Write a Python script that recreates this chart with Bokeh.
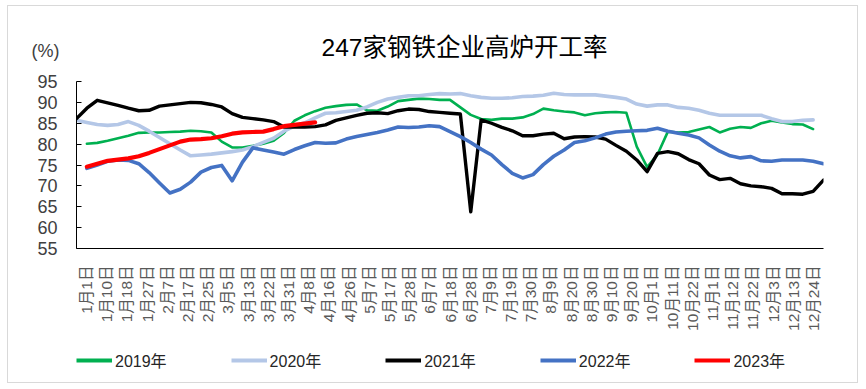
import numpy as np
from bokeh.plotting import figure
from bokeh.layouts import column
from bokeh.models import (Range1d, FixedTicker, Legend, LegendItem, Label, LinearAxis,
                          CustomJSTickFormatter)
from bokeh.embed import file_html
from bokeh.resources import INLINE

# ---------------- data ----------------
date_labels = ["1月1日", "1月10日", "1月18日", "1月27日", "2月7日", "2月17日", "2月25日",
               "3月5日", "3月13日", "3月22日", "3月31日", "4月8日", "4月16日", "4月26日",
               "5月7日", "5月17日", "5月28日", "6月7日", "6月18日", "6月28日", "7月9日",
               "7月19日", "7月30日", "8月9日", "8月20日", "8月30日", "9月10日", "9月20日",
               "10月1日", "10月11日", "10月22日", "11月1日", "11月12日", "11月22日",
               "12月3日", "12月13日", "12月24日"]

y_ticks = [55, 60, 65, 70, 75, 80, 85, 90, 95]

v2019 = [None, 80.1, 80.3, 80.8, 81.4, 82.0, 82.7, 82.8, 82.8, 82.9, 83.0, 83.2, 83.1, 82.8,
         80.6, 79.2, 79.2, 79.6, 80.1, 80.8, 82.7, 85.6, 86.9, 87.9, 88.7, 89.1, 89.4, 89.5,
         88.1, 88.0, 89.0, 90.3, 90.6, 90.9, 90.8, 90.6, 90.6, 88.8, 87.0, 86.0, 85.8, 86.1,
         86.1, 86.4, 87.2, 88.5, 88.1, 87.8, 87.6, 86.9, 87.4, 87.6, 87.7, 87.5, 79.4, 74.5,
         77.5, 83.0, 82.8, 82.9, 83.5, 84.1, 82.8, 83.7, 84.1, 83.9, 85.0, 85.6, 85.2, 84.8,
         84.7, 83.6]

v2020 = [85.7, 85.2, 84.7, 84.5, 84.7, 85.4, 84.5, 83.1, 81.6, 80.1, 78.6, 77.2, 77.4, 77.6,
         77.9, 78.2, 78.6, 79.4, 80.4, 81.4, 83.1, 84.3, 85.1, 86.3, 87.4, 87.5, 87.8, 88.1,
         88.9, 90.0, 90.8, 91.2, 91.6, 91.6, 91.9, 92.1, 92.0, 92.1, 91.6, 91.2, 91.0, 91.0,
         91.1, 91.4, 91.5, 91.7, 92.2, 91.9, 91.8, 91.8, 91.8, 91.5, 91.2, 90.8, 89.6, 89.1,
         89.4, 89.4, 88.8, 88.6, 88.1, 87.4, 86.9, 86.9, 86.9, 86.9, 86.9, 86.1, 85.4, 85.4,
         85.7, 85.8]

v2021 = [86.1, 88.6, 90.5, 89.9, 89.3, 88.6, 88.0, 88.1, 89.1, 89.4, 89.7, 90.0, 89.9, 89.5,
         88.9, 87.3, 86.4, 86.1, 85.8, 85.4, 84.1, 84.1, 84.1, 84.2, 84.6, 85.7, 86.3, 86.9,
         87.4, 87.5, 87.3, 88.0, 88.4, 88.3, 87.8, 87.6, 87.4, 87.2, 63.8, 85.8, 85.0, 84.0,
         83.2, 82.0, 82.0, 82.4, 82.6, 81.3, 81.7, 81.8, 81.7, 81.2, 79.7, 78.3, 76.2, 73.4,
         77.8, 78.2, 77.7, 76.3, 75.3, 72.6, 71.5, 71.8, 70.5, 70.0, 69.8, 69.4, 68.1, 68.1,
         68.0, 68.7, 71.4]

v2022 = [None, 74.2, 75.0, 75.9, 76.2, 76.1, 75.3, 73.2, 70.7, 68.3, 69.2, 70.9, 73.3, 74.4,
         74.9, 71.2, 75.7, 79.1, 78.6, 78.1, 77.6, 78.7, 79.6, 80.4, 80.2, 80.3, 81.2, 81.8,
         82.3, 82.8, 83.4, 84.1, 84.0, 84.1, 84.4, 84.2, 83.0, 81.8, 80.4, 78.8, 77.4, 75.1,
         73.0, 71.9, 72.7, 75.1, 77.1, 78.6, 80.4, 80.8, 81.5, 82.4, 82.9, 83.1, 83.2, 83.3,
         83.8, 83.1, 82.6, 82.2, 81.5, 79.8, 78.3, 77.2, 76.7, 77.0, 76.0, 75.9, 76.2, 76.2,
         76.2, 75.9, 75.3]

v2023 = [None, 74.6, 75.3, 76.0, 76.3, 76.6, 77.1, 77.9, 78.8, 79.7, 80.6, 81.1, 81.2, 81.4,
         81.9, 82.5, 82.8, 82.9, 83.0, 83.6, 84.3, 84.6, 84.9, 85.2]

series_names = ["2019年", "2020年", "2021年", "2022年", "2023年"]
series_values = [v2019, v2020, v2021, v2022, v2023]
series_colors = ["#00B050", "#B4C7E7", "#000000", "#4472C4", "#FF0000"]
series_widths = [2.6, 3.6, 3.4, 3.6, 4.2]

title_text = "247家钢铁企业高炉开工率"
unit_text = "(%)"

# ---------------- layout constants (page pixels of the reference) ----------------
x_off, y_off = 7, 5               # outer border of the chart box
W = 858 - x_off
H_main, H_leg = 335, 43
n_slots = 73                      # weekly sampling slots across the year
n_cats = len(date_labels)         # label bins across the same width
x_lo, x_hi = 0, n_cats
y_lo, y_top_tick = 55, 95
frame_left_px, frame_right_px = 75, 822
axis_top_px, frame_bottom_px = 80, 247
px_x = (frame_right_px - frame_left_px) / (x_hi - x_lo)
px_y = (frame_bottom_px - axis_top_px) / (y_top_tick - y_lo)
# plotting area reaches the top of the canvas so the heading can sit inside it
y_hi = y_top_tick + (axis_top_px - y_off) / px_y
slot_step = (x_hi - x_lo) / (n_slots - 1)
BORDER = "1px solid #d9d9d9"
MB_LEFT = frame_left_px - x_off
MB_RIGHT = W - (frame_right_px - x_off)

def x_at(px):
    return x_lo + (px - frame_left_px) / px_x

def y_at(py):
    return y_top_tick + (axis_top_px - py) / px_y

FONT = "Liberation Sans, Noto Sans CJK SC"

p = figure(width=W, height=H_main, output_backend="svg", toolbar_location=None,
           x_range=Range1d(x_lo, x_hi), y_range=Range1d(y_lo, y_hi),
           min_border_left=MB_LEFT, min_border_right=MB_RIGHT,
           min_border_top=0, min_border_bottom=H_main - (frame_bottom_px - y_off))
p.title.visible = False
p.outline_line_color = None
p.xgrid.visible = False
p.ygrid.visible = False
p.background_fill_color = "white"
p.border_fill_color = "white"

xaxis = p.xaxis[0]
xaxis.ticker = FixedTicker(ticks=[i + 0.5 for i in range(n_cats)])
xaxis.formatter = CustomJSTickFormatter(args=dict(labels=date_labels),
                                        code="return labels[Math.floor(tick)];")
xaxis.major_label_orientation = np.pi / 2
xaxis.major_tick_line_color = None
xaxis.minor_tick_line_color = None
xaxis.axis_line_color = "black"
xaxis.axis_line_width = 1
xaxis.major_label_text_font = FONT
xaxis.major_label_text_font_size = "15.5px"
xaxis.major_label_text_color = "#595959"
xaxis.major_label_standoff = 11

yaxis = p.yaxis[0]
yaxis.bounds = (y_lo, y_top_tick)
yaxis.ticker = FixedTicker(ticks=y_ticks)
yaxis.major_tick_in = 5
yaxis.major_tick_out = 0
yaxis.minor_tick_line_color = None
yaxis.axis_line_color = "black"
yaxis.major_tick_line_color = "black"
yaxis.major_label_text_font = FONT
yaxis.major_label_text_font_size = "18px"
yaxis.major_label_text_color = "#404040"
yaxis.major_label_standoff = 19

# unit label "(%)" drawn as the single label of a second, bare left axis
unit_axis = LinearAxis(ticker=FixedTicker(ticks=[y_at(49)]),
                       formatter=CustomJSTickFormatter(args=dict(t=unit_text), code="return t;"))
unit_axis.axis_line_color = None
unit_axis.major_tick_line_color = None
unit_axis.minor_tick_line_color = None
unit_axis.major_label_text_font = FONT
unit_axis.major_label_text_font_size = "18px"
unit_axis.major_label_text_color = "#404040"
unit_axis.major_label_standoff = -31
p.add_layout(unit_axis, "left")

for name, vals, col, lw in zip(series_names, series_values, series_colors, series_widths):
    ys = np.array(vals, dtype=float)
    xs = x_lo + np.arange(len(ys)) * slot_step
    p.line(xs, ys, line_color=col, line_width=lw, line_join="round", line_cap="round")

title = Label(x=x_at(463), y=y_at(45.5), text=title_text,
              text_align="center", text_baseline="middle",
              text_font=FONT, text_font_size="24.5px", text_color="#000000")
p.add_layout(title)

# ---------------- legend strip (same series, drawn out of view) ----------------
lf = figure(width=W, height=H_leg, output_backend="svg", toolbar_location=None,
            x_range=Range1d(x_lo, x_hi), y_range=Range1d(0, 1),
            x_axis_location=None, y_axis_location=None,
            min_border_left=MB_LEFT, min_border_right=MB_RIGHT,
            min_border_top=0, min_border_bottom=0)
lf.title.visible = False
lf.outline_line_color = None
lf.xgrid.visible = False
lf.ygrid.visible = False
lf.background_fill_color = "white"
lf.border_fill_color = "white"

items = []
for name, vals, col in zip(series_names, series_values, series_colors):
    ys = np.array(vals, dtype=float)
    xs = x_lo + np.arange(len(ys)) * slot_step
    r = lf.line(xs, ys, line_color=col, line_width=4)
    items.append(LegendItem(label=name, renderers=[r]))

leg_center_px = 362
leg_h = 20
strip_top_px = y_off + H_main
leg_bottom_from_top = leg_center_px + leg_h / 2 - strip_top_px
legend = Legend(items=items, orientation="horizontal",
                location=(0, H_leg - leg_bottom_from_top),
                glyph_width=36, glyph_height=leg_h, label_height=leg_h,
                label_standoff=3, spacing=64,
                padding=0, margin=0, border_line_color=None, background_fill_alpha=0,
                label_text_font=FONT, label_text_font_size="16px", label_text_color="#262626")
lf.add_layout(legend)

p.styles = {"border-top": BORDER, "border-left": BORDER, "border-right": BORDER,
            "box-sizing": "border-box"}
lf.styles = {"border-bottom": BORDER, "border-left": BORDER, "border-right": BORDER,
             "box-sizing": "border-box"}

layout = column(p, lf, spacing=0, margin=(y_off, 0, 0, x_off))
open("out.html", "w").write(file_html(layout, INLINE))
